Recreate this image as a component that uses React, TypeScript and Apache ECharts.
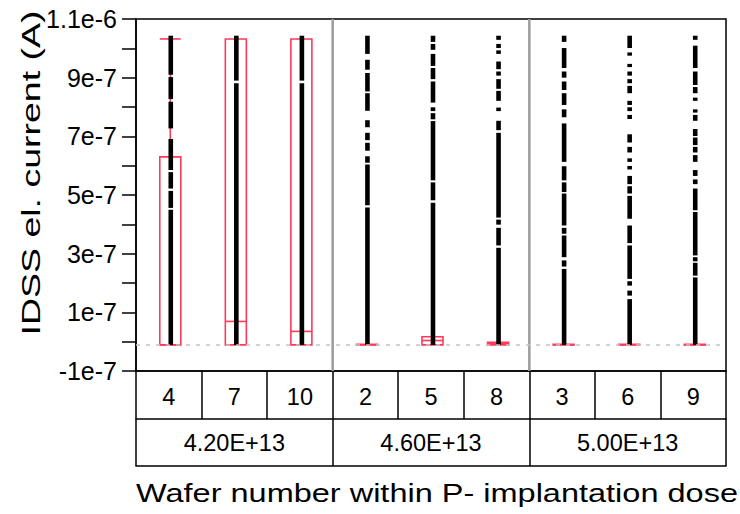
import React, { useEffect, useRef } from 'react';
import * as echarts from 'echarts';

// ---------- data (IDSS values in µA, i.e. units of 1e-6 A) ----------
const wafers = ['4', '7', '10', '2', '5', '8', '3', '6', '9'];
const waferDose = [0, 0, 0, 1, 1, 1, 2, 2, 2];
const doses = ['4.20E+13', '4.60E+13', '5.00E+13'];
const yTickLabels = ['-1e-7', '1e-7', '3e-7', '5e-7', '7e-7', '9e-7', '1.1e-6'];
const yMin = -0.1;
const yMax = 1.1;
const yStep = 0.1;
const refLine = -0.009;

// box stats per wafer: [lowWhisker, q1, median, q3, highWhisker]
const box_4 = [-0.011, -0.011, -0.011, 0.630, 1.032];
const box_7 = [-0.011, -0.011, 0.069, 1.032, 1.032];
const box_10 = [-0.011, -0.011, 0.035, 1.032, 1.032];
const box_2 = [-0.011, -0.011, -0.011, -0.009, -0.009];
const box_5 = [-0.011, -0.011, 0.004, 0.017, 0.017];
const box_8 = [-0.011, -0.011, -0.006, -0.002, -0.002];
const box_3 = [-0.011, -0.011, -0.011, -0.009, -0.009];
const box_6 = [-0.011, -0.011, -0.011, -0.009, -0.009];
const box_9 = [-0.011, -0.011, -0.011, -0.009, -0.009];

// dense runs of measured points per wafer: [top, bottom]
const runs_4 = [[1.043, 0.910], [0.902, 0.827], [0.818, 0.727], [0.691, 0.585], [0.578, 0.522], [0.514, 0.456], [0.450, -0.011]];
const runs_7 = [[1.043, 0.890], [0.881, -0.011]];
const runs_10 = [[1.043, 0.890], [0.881, -0.011]];
const runs_2 = [[1.043, 0.981], [0.961, 0.927], [0.916, 0.853], [0.847, 0.787], [0.755, 0.731], [0.712, 0.687], [0.678, 0.651], [0.632, 0.610], [0.604, 0.465], [0.457, -0.011]];
const runs_5 = [[1.043, 1.022], [1.015, 0.995], [0.981, 0.940], [0.933, 0.895], [0.887, 0.815], [0.799, 0.786], [0.779, 0.758], [0.752, 0.550], [0.543, 0.482], [0.474, -0.011]];
const runs_8 = [[1.043, 1.029], [1.015, 1.001], [0.993, 0.981], [0.955, 0.929], [0.921, 0.907], [0.895, 0.862], [0.855, 0.821], [0.798, 0.786], [0.753, 0.721], [0.712, 0.423], [0.416, 0.399], [0.388, 0.328], [0.320, -0.011]];
const runs_3 = [[1.043, 1.022], [1.001, 0.933], [0.921, 0.900], [0.887, 0.858], [0.847, 0.807], [0.792, 0.765], [0.744, 0.613], [0.598, 0.550], [0.543, 0.510], [0.505, 0.396], [0.388, 0.368], [0.362, 0.288], [0.277, 0.256], [0.248, -0.011]];
const runs_6 = [[1.043, 1.001], [0.986, 0.975], [0.947, 0.936], [0.921, 0.907], [0.895, 0.881], [0.872, 0.847], [0.821, 0.807], [0.799, 0.786], [0.773, 0.759], [0.707, 0.679], [0.664, 0.645], [0.625, 0.613], [0.599, 0.587], [0.565, 0.537], [0.530, 0.505], [0.497, 0.419], [0.396, 0.336], [0.328, 0.214], [0.206, 0.191], [0.174, 0.157], [0.145, -0.011]];
const runs_9 = [[1.043, 1.029], [1.009, 0.933], [0.921, 0.875], [0.868, 0.847], [0.832, 0.821], [0.792, 0.781], [0.773, 0.753], [0.725, 0.701], [0.696, 0.670], [0.664, 0.645], [0.636, 0.613], [0.585, 0.565], [0.553, 0.537], [0.522, 0.448], [0.442, 0.294], [0.288, 0.274], [0.269, 0.225], [0.219, -0.011]];

const yTitle = 'IDSS el. current (A)';
const xTitle = 'Wafer number within P- implantation dose';

// ---------- styling ----------
const RED = '#ff3a5a';
const FONT = '"Liberation Sans", Arial, sans-serif';

export default function App() {
  const ref = useRef<HTMLDivElement>(null);

  useEffect(() => {
    if (!ref.current) return;
    const chart = echarts.init(ref.current, undefined, { renderer: 'svg' });

    const boxes = [box_4, box_7, box_10, box_2, box_5, box_8, box_3, box_6, box_9];
    const runs = [runs_4, runs_7, runs_10, runs_2, runs_5, runs_8, runs_3, runs_6, runs_9];

    const boxData = boxes.map((b, i) => [i, ...b]);
    const runData: number[][] = [];
    runs.forEach((rs, i) => rs.forEach((r) => runData.push([i, r[0], r[1]])));
    const sepData: number[][] = [];
    for (let i = 1; i < waferDose.length; i++) {
      if (waferDose[i] !== waferDose[i - 1]) sepData.push([i, 0]);
    }

    const axisLine = { show: true, onZero: false, lineStyle: { color: '#000', width: 1.5 } };

    const option: any = {
      animation: false,
      backgroundColor: '#fff',
      grid: {
        left: 136,
        top: 19,
        width: 590,
        height: 352,
        show: true,
        borderColor: '#000',
        borderWidth: 1.5,
        containLabel: false,
        outerBoundsMode: 'none',
      },
      xAxis: [
        {
          type: 'category',
          data: wafers,
          position: 'bottom',
          boundaryGap: true,
          axisLine,
          axisTick: { show: true, interval: 0, length: 48, lineStyle: { color: '#000', width: 1.5 } },
          axisLabel: { interval: 0, fontSize: 23.5, color: '#000', fontFamily: FONT, margin: 14 },
          splitLine: { show: false },
        },
        {
          type: 'category',
          data: doses,
          position: 'bottom',
          offset: 48,
          boundaryGap: true,
          axisLine,
          axisTick: { show: true, interval: 0, length: 47, lineStyle: { color: '#000', width: 1.5 } },
          axisLabel: { interval: 0, fontSize: 23.5, color: '#000', fontFamily: FONT, margin: 12 },
          splitLine: { show: false },
        },
        {
          type: 'category',
          data: doses,
          position: 'bottom',
          offset: 95,
          axisLine,
          axisTick: { show: false },
          axisLabel: { show: false },
          splitLine: { show: false },
        },
      ],
      yAxis: {
        type: 'value',
        min: yMin,
        max: yMax,
        interval: yStep,
        axisLine,
        axisTick: { show: true, length: 14, lineStyle: { color: '#000', width: 1.5 } },
        axisLabel: {
          fontSize: 25,
          color: '#000',
          fontFamily: FONT,
          margin: 19,
          formatter: (v: number) => {
            const k = Math.round(v / yStep);
            return k % 2 !== 0 ? yTickLabels[(k + 1) / 2] : '';
          },
        },
        splitLine: { show: false },
      },
      series: [
        {
          type: 'custom',
          name: 'separators',
          xAxisIndex: 0,
          yAxisIndex: 0,
          z: 1,
          silent: true,
          data: sepData,
          encode: { x: 0, y: 1 },
          renderItem: (params: any, api: any) => {
            const cs = params.coordSys;
            const x = api.coord([api.value(0), 0])[0] - api.size([1, 0])[0] / 2;
            return {
              type: 'line',
              shape: { x1: x, y1: cs.y, x2: x, y2: cs.y + cs.height },
              style: { stroke: '#9c9c9c', lineWidth: 2.5 },
            };
          },
          markLine: {
            silent: true,
            symbol: ['none', 'none'],
            label: { show: false },
            lineStyle: { color: '#c4c4c4', type: [4, 6], width: 1.5 },
            data: [{ yAxis: refLine }],
          },
        },
        {
          type: 'custom',
          name: 'boxes',
          xAxisIndex: 0,
          yAxisIndex: 0,
          z: 2,
          silent: true,
          data: boxData,
          encode: { x: 0, y: [1, 2, 3, 4, 5] },
          renderItem: (params: any, api: any) => {
            const i = api.value(0);
            const cx = api.coord([i, 0])[0] + 1.5;
            const w = 21;
            const yLo = api.coord([i, api.value(1)])[1];
            const yQ1 = api.coord([i, api.value(2)])[1];
            const yMed = api.coord([i, api.value(3)])[1];
            const yQ3 = api.coord([i, api.value(4)])[1];
            const yHi = api.coord([i, api.value(5)])[1];
            const style = { stroke: RED, lineWidth: 1.6, fill: 'none' };
            const children: any[] = [
              { type: 'rect', shape: { x: cx - w / 2, y: yQ3, width: w, height: Math.max(yQ1 - yQ3, 0.5) }, style },
              { type: 'line', shape: { x1: cx - w / 2, y1: yMed, x2: cx + w / 2, y2: yMed }, style },
            ];
            if (yHi < yQ3 - 0.5) {
              children.push({ type: 'line', shape: { x1: cx, y1: yQ3, x2: cx, y2: yHi }, style });
              children.push({ type: 'line', shape: { x1: cx - w / 2, y1: yHi, x2: cx + w / 2, y2: yHi }, style });
            }
            if (yLo > yQ1 + 0.5) {
              children.push({ type: 'line', shape: { x1: cx, y1: yQ1, x2: cx, y2: yLo }, style });
              children.push({ type: 'line', shape: { x1: cx - w / 2, y1: yLo, x2: cx + w / 2, y2: yLo }, style });
            }
            return { type: 'group', children };
          },
        },
        {
          type: 'custom',
          name: 'points',
          xAxisIndex: 0,
          yAxisIndex: 0,
          z: 3,
          silent: true,
          data: runData,
          encode: { x: 0, y: [1, 2] },
          renderItem: (params: any, api: any) => {
            const i = api.value(0);
            const cx = api.coord([i, 0])[0] + 2;
            const yTop = api.coord([i, api.value(1)])[1];
            const yBot = api.coord([i, api.value(2)])[1];
            return {
              type: 'rect',
              shape: { x: cx - 2.3, y: yTop, width: 4.6, height: Math.max(yBot - yTop, 3) },
              style: { fill: '#000' },
            };
          },
        },
      ],
      graphic: [
        {
          type: 'text',
          x: 31,
          y: 173,
          rotation: Math.PI / 2,
          scaleX: 1.5,
          style: {
            text: yTitle,
            fontSize: 25,
            fontFamily: FONT,
            fill: '#000',
            align: 'center',
            verticalAlign: 'middle',
          },
        },
        {
          type: 'text',
          x: 437,
          y: 493,
          scaleX: 1.3,
          style: {
            text: xTitle,
            fontSize: 25,
            fontFamily: FONT,
            fill: '#000',
            align: 'center',
            verticalAlign: 'middle',
          },
        },
      ],
    };

    chart.setOption(option);
    return () => chart.dispose();
  }, []);

  return (
    <div
      ref={ref}
      style={{ position: 'fixed', left: 0, top: 0, width: 740, height: 514, background: '#fff' }}
    />
  );
}
